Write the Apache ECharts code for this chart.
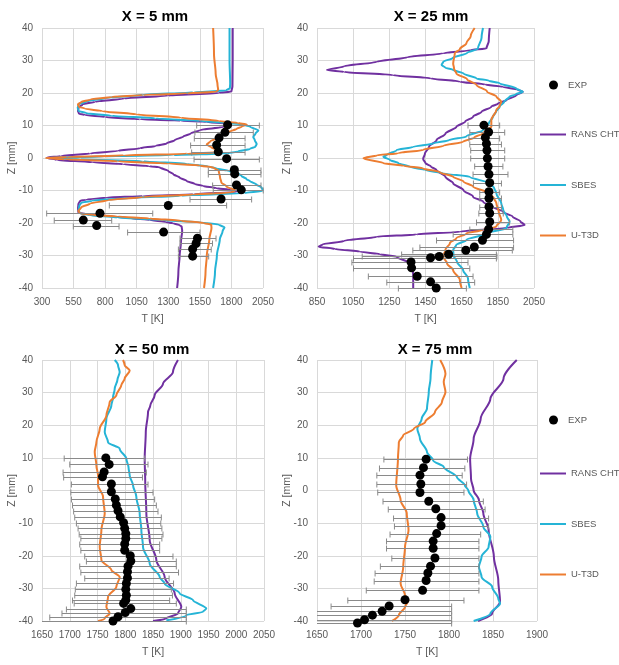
<!DOCTYPE html>
<html>
<head>
<meta charset="utf-8">
<script src="https://cdn.jsdelivr.net/npm/echarts@6/dist/echarts.min.js"></script>
<style>
  html, body { margin: 0; padding: 0; background: #ffffff; }
  #chart { width: 619px; height: 665px; }
</style>
</head>
<body>
<div id="chart"></div>
<script>
// Temperature profiles T(Z) at four downstream stations: measurements (EXP, with
// horizontal uncertainty bars) against three simulations.

const FONT = "'Liberation Sans', Arial, sans-serif";
const seriesNames = ['EXP', 'RANS CHT', 'SBES', 'U-T3D'];
const panelTitles = ['X = 5 mm', 'X = 25 mm', 'X = 50 mm', 'X = 75 mm'];
// x-axis [min, max, interval] per station, y-axis shared
const tAxes = [[300, 2050, 250], [850, 2050, 200], [1650, 2050, 50], [1650, 1900, 50]];
const zAxis = [-40, 40, 10];

// ---------- X = 5 mm ----------
const x5_expZ  = [10.2, 7.9, 6.2, 4.0, 1.9, -0.2, -3.6, -4.9, -8.3, -9.8, -12.6, -14.6, -17.0, -19.1, -20.8, -22.8, -24.7, -26.3, -28.0, -30.2];
const x5_expT  = [1770, 1749, 1702, 1683, 1696, 1762, 1823, 1826, 1840, 1878, 1718, 1300, 759, 627, 733, 1263, 1531, 1520, 1493, 1493];
const x5_expLo = [1525, 1511, 1506, 1477, 1485, 1504, 1617, 1617, 1651, 1656, 1472, 833, 337, 397, 548, 978, 1393, 1393, 1380, 1380];
const x5_expHi = [2021, 1973, 1908, 1908, 1908, 2021, 2034, 2034, 2034, 2052, 1960, 1762, 1177, 852, 910, 1551, 1678, 1650, 1640, 1620];
const x5_rans = [[1810,40],[1810,30],[1808,22],[1800,20.5],[1700,20],[1300,19.2],[950,18.3],[720,17.3],[620,16.5],[590,15.5],[585,14.5],[592,13.7],[640,13.2],[800,12.6],[1076,11.9],[1400,11.5],[1604,11.1],[1762,10.6],[1790,10.2],[1740,9.6],[1551,8.6],[1480,7.6],[1419,6.6],[1350,5.5],[1288,4.5],[1200,3.7],[1076,3.0],[900,2.2],[680,1.4],[450,0.6],[340,0.1],[420,-0.6],[700,-1.3],[944,-1.9],[1150,-2.5],[1234,-2.9],[1300,-4],[1340,-5],[1390,-6],[1446,-7.1],[1510,-8],[1577,-8.6],[1680,-9.3],[1790,-9.8],[1840,-10.4],[1500,-11.2],[1100,-11.7],[812,-12.2],[650,-12.8],[601,-13.2],[588,-14.2],[585,-15.5],[588,-16.8],[650,-17.3],[812,-17.8],[1000,-18.5],[1155,-19.1],[1280,-19.7],[1340,-20.1],[1390,-20.7],[1406,-21.1],[1410,-22.4],[1400,-26],[1390,-30],[1380,-35],[1370,-40]];
const x5_sbes = [[1785,40],[1785,30],[1790,23],[1788,21.5],[1760,20.8],[1500,20.2],[1100,19.5],[800,18.4],[650,17.4],[590,16.5],[583,15.5],[590,14.5],[650,13.8],[850,13],[1200,12.2],[1550,11.4],[1780,10.8],[1900,10.2],[1950,9.6],[2013,8.5],[1990,7.5],[1973,6.5],[1985,5.5],[2000,4.3],[1990,3.5],[1947,2.8],[1850,2.0],[1762,1.4],[1340,0.9],[800,0.5],[360,0.1],[600,-0.4],[1100,-1],[1450,-1.8],[1620,-2.6],[1683,-3.2],[1780,-4],[1842,-4.5],[1880,-5.5],[1920,-6.5],[1947,-7.1],[2000,-8.2],[2040,-9.1],[2048,-10.1],[1900,-10.8],[1400,-11.6],[1000,-12.3],[700,-13.1],[610,-13.8],[595,-14.8],[590,-16],[600,-17],[680,-17.6],[900,-18.3],[1250,-19.1],[1560,-19.8],[1700,-20.5],[1745,-21.3],[1730,-22.5],[1708,-25],[1685,-30],[1670,-35],[1655,-40]];
const x5_ut3d = [[1655,40],[1662,32],[1675,26],[1690,22.5],[1695,21],[1680,20.4],[1450,19.9],[1100,19.4],[850,18.8],[680,18],[610,17.2],[585,16.5],[592,15.8],[640,15.2],[780,14.4],[1050,13.4],[1400,12.4],[1700,11.4],[1850,10.8],[1921,10.3],[1880,9.6],[1842,9],[1780,8],[1700,6.5],[1630,5],[1604,4.2],[1640,3.3],[1690,2.4],[1700,1.8],[1450,1.3],[950,0.8],[500,0.3],[330,0],[480,-0.4],[900,-1],[1300,-1.7],[1550,-2.3],[1660,-3],[1700,-4],[1710,-6],[1720,-7.5],[1760,-8.7],[1828,-10],[1800,-10.6],[1500,-11.2],[1100,-12],[820,-13],[680,-14],[610,-15.2],[588,-16.3],[600,-17],[700,-17.5],[900,-18],[1150,-18.6],[1400,-19.3],[1580,-20],[1640,-20.5],[1642,-21.5],[1625,-25],[1605,-30],[1595,-35],[1583,-40]];

// ---------- X = 25 mm ----------
const x25_expZ  = [10.1, 8.0, 6.3, 4.4, 2.4, -0.1, -2.6, -5.0, -7.6, -10.4, -12.4, -15.0, -17.0, -19.6, -21.9, -23.5, -25.3, -27.4, -28.4, -29.6, -30.3, -30.7, -32.0, -33.8, -36.4, -38.1, -40.0];
const x25_expT  = [1773, 1799, 1781, 1787, 1790, 1792, 1796, 1801, 1805, 1801, 1801, 1801, 1805, 1805, 1799, 1787, 1765, 1720, 1673, 1578, 1526, 1478, 1370, 1373, 1404, 1478, 1509];
const x25_expLo = [1685, 1695, 1690, 1695, 1700, 1700, 1722, 1713, 1715, 1750, 1750, 1750, 1745, 1732, 1695, 1603, 1511, 1419, 1380, 1318, 1100, 1052, 1043, 1052, 1134, 1236, 1300];
const x25_expHi = [1860, 1888, 1860, 1870, 1888, 1888, 1878, 1906, 1870, 1860, 1870, 1870, 1880, 1915, 1933, 1933, 1937, 1937, 1930, 1842, 1845, 1842, 1685, 1695, 1713, 1722, 1676];
const x25_rans = [[1805,40],[1800,36],[1787,33.7],[1700,33.2],[1548,32.2],[1350,31],[1181,29.6],[1000,28.2],[905,27.1],[1000,26.5],[1272,25.5],[1480,24.5],[1640,23.5],[1780,22.6],[1878,21.9],[1960,21],[1988,20.4],[1950,19.2],[1897,17.8],[1850,16.7],[1814,15.8],[1760,14.2],[1713,12.7],[1670,11.2],[1621,9.6],[1560,7.5],[1511,5.5],[1470,3.5],[1447,1.4],[1437,-0.3],[1450,-1.6],[1480,-2.6],[1511,-3.7],[1560,-5.8],[1603,-7.8],[1660,-9.9],[1713,-11.9],[1770,-13.5],[1823,-15],[1880,-16.6],[1933,-18.1],[1975,-19.5],[1998,-20.6],[1900,-21.5],[1640,-22.7],[1400,-23.5],[1181,-24.2],[1000,-25.5],[880,-26.6],[859,-27.3],[950,-28],[1089,-28.8],[1200,-29.6],[1291,-30.4],[1364,-32.4],[1380,-34],[1382,-36.5],[1382,-40]];
const x25_sbes = [[1768,40],[1760,37],[1740,33.7],[1680,32.3],[1600,30.8],[1548,29.6],[1539,28.6],[1560,27.8],[1603,27.1],[1660,26],[1732,24.5],[1800,23.8],[1860,23],[1952,21.4],[1988,20.4],[1950,19.6],[1915,18.9],[1885,17.3],[1860,15.8],[1840,14.2],[1823,12.7],[1800,10.6],[1768,8.6],[1676,6.6],[1580,5.5],[1493,4.5],[1380,3.4],[1291,2.5],[1236,0.9],[1217,0.4],[1254,-0.6],[1300,-1.6],[1364,-2.7],[1450,-3.7],[1548,-4.7],[1695,-5.8],[1805,-7.8],[1830,-9.3],[1842,-10.9],[1869,-13.9],[1880,-16],[1900,-18],[1915,-19.6],[1897,-21.6],[1787,-23.2],[1676,-25.2],[1620,-26.8],[1603,-28.3],[1605,-30],[1625,-32],[1658,-34.5],[1685,-37],[1695,-40]];
const x25_ut3d = [[1722,40],[1700,37.5],[1676,35.3],[1640,33.5],[1612,32.2],[1603,29.1],[1608,27.5],[1621,26],[1680,24.2],[1732,22.5],[1790,20.5],[1842,18.9],[1869,17.3],[1860,16],[1842,14.8],[1814,11.7],[1814,9.6],[1790,8.6],[1768,7.6],[1720,6.3],[1658,5],[1550,3.8],[1437,2.5],[1300,1.5],[1180,0.8],[1107,-0.1],[1217,-1.6],[1330,-2.4],[1437,-3.2],[1530,-4.4],[1603,-5.8],[1660,-7.2],[1713,-8.8],[1805,-10.9],[1830,-12.5],[1842,-13.9],[1855,-16.5],[1869,-19.1],[1842,-21.1],[1760,-22.2],[1676,-23.2],[1620,-24.7],[1585,-26.2],[1560,-28.2],[1548,-30.4],[1570,-32.5],[1603,-34.5],[1640,-37.5],[1650,-40]];

// ---------- X = 50 mm ----------
const x50_expZ  = [10.0, 8.0, 5.7, 4.2, 2.0, -0.4, -2.6, -4.5, -6.2, -8.1, -9.9, -11.6, -13.2, -14.7, -16.4, -18.3, -20.0, -21.6, -23.2, -24.9, -26.8, -28.5, -30.3, -32.1, -33.6, -34.6, -36.2, -37.4, -38.7, -40.0];
const x50_expT  = [1765, 1771, 1762, 1759, 1775, 1775, 1782, 1784, 1787, 1791, 1797, 1799, 1801, 1801, 1799, 1799, 1809, 1810, 1805, 1804, 1804, 1802, 1801, 1802, 1801, 1797, 1810, 1800, 1787, 1778];
const x50_expLo = [1690, 1700, 1688, 1689, 1703, 1702, 1703, 1705, 1707, 1709, 1712, 1715, 1717, 1720, 1718, 1720, 1727, 1730, 1718, 1720, 1727, 1712, 1710, 1709, 1705, 1708, 1694, 1686, 1664, 1649];
const x50_expHi = [1835, 1841, 1838, 1831, 1841, 1850, 1853, 1856, 1859, 1865, 1864, 1866, 1868, 1866, 1862, 1862, 1886, 1892, 1892, 1896, 1879, 1887, 1883, 1885, 1880, 1892, 1910, 1910, 1910, 1910];
const x50_rans = [[1895,40],[1886,36.3],[1868,32.7],[1853,29.2],[1845,26],[1841,24],[1837,17.9],[1835,9.7],[1836,2.7],[1838,-7],[1844,-15.2],[1856,-21.3],[1871,-26.5],[1889,-31.5],[1901,-35.7],[1895,-37.7],[1874,-39.2],[1850,-40]];
const x50_sbes = [[1781,40],[1787,38.4],[1790,36.3],[1786,34],[1781,31.2],[1778,28.5],[1775,26.1],[1766,22],[1763,17.9],[1769,14.8],[1790,12.8],[1802,9.7],[1806,7],[1808,4.6],[1814,1.6],[1820,-1.9],[1826,-7],[1829,-12.1],[1832,-17.3],[1844,-22.4],[1862,-26.5],[1871,-28.5],[1898,-31.5],[1922,-33.6],[1946,-36.2],[1940,-37.2],[1910,-38.2],[1874,-39.8]];
const x50_ut3d = [[1796,40],[1799,38.4],[1808,36.8],[1799,34.3],[1793,32.3],[1784,29.2],[1772,27.1],[1766,23],[1754,18.9],[1748,14.8],[1745,11.8],[1748,7.7],[1751,4.6],[1751,1.6],[1760,-1.9],[1763,-7],[1757,-12.1],[1754,-17.3],[1757,-21.3],[1775,-24.4],[1790,-26.5],[1784,-29.5],[1769,-32.6],[1766,-35.7],[1772,-37.7],[1763,-39.2],[1751,-40]];

// ---------- X = 75 mm ----------
const x75_expZ  = [9.6, 7.0, 4.7, 2.0, -0.6, -3.3, -5.6, -8.3, -10.8, -13.2, -15.5, -17.7, -20.7, -23.2, -25.3, -27.6, -30.6, -33.5, -35.4, -37.0, -38.2, -39.6, -40.6];
const x75_expT  = [1774, 1771, 1767, 1768, 1767, 1777, 1785, 1791, 1791, 1786, 1782, 1782, 1784, 1779, 1776, 1774, 1770, 1750, 1732, 1724, 1713, 1704, 1696];
const x75_expLo = [1726, 1721, 1718, 1718, 1719, 1725, 1731, 1737, 1738, 1733, 1729, 1729, 1735, 1722, 1716, 1715, 1706, 1685, 1666, 1640, 1630, 1625, 1620];
const x75_expHi = [1821, 1818, 1815, 1820, 1817, 1839, 1841, 1845, 1845, 1836, 1834, 1834, 1834, 1834, 1834, 1834, 1834, 1817, 1803, 1803, 1803, 1803, 1803];
const x75_rans = [[1877,40],[1862,34.3],[1847,28.1],[1836,22],[1828,15.9],[1824,9.7],[1825,3.6],[1828,0],[1834,-2.9],[1839,-7],[1845,-12.1],[1851,-20.3],[1856,-27.5],[1858,-34.1],[1849,-37.7],[1833,-40]];
const x75_sbes = [[1781,40],[1779,34.3],[1777,30.2],[1775,25.1],[1769,22],[1764,18.9],[1767,15.9],[1775,11.8],[1782,9.2],[1794,7.2],[1809,4.1],[1818,1.6],[1822,0],[1828,-2.9],[1832,-7],[1839,-11.1],[1847,-14.2],[1845,-17.3],[1837,-20.3],[1834,-23.4],[1837,-26.5],[1849,-29.5],[1856,-33.1],[1858,-34.6],[1847,-37.7],[1828,-40]];
const x75_ut3d = [[1790,40],[1796,35.8],[1794,33.3],[1796,30.2],[1792,27.1],[1784,24],[1773,21],[1760,18.9],[1748,16.9],[1743,14.8],[1742,9.7],[1740,1.6],[1745,-2.9],[1752,-7],[1754,-12.1],[1750,-17.3],[1748,-23.4],[1745,-28.5],[1750,-32.1],[1754,-33.6],[1750,-35.7],[1743,-38.2],[1735,-40]];

// ---------- assembly ----------
const stations = [
  { expZ: x5_expZ,  expT: x5_expT,  lo: x5_expLo,  hi: x5_expHi,  rans: x5_rans,  sbes: x5_sbes,  ut3d: x5_ut3d },
  { expZ: x25_expZ, expT: x25_expT, lo: x25_expLo, hi: x25_expHi, rans: x25_rans, sbes: x25_sbes, ut3d: x25_ut3d },
  { expZ: x50_expZ, expT: x50_expT, lo: x50_expLo, hi: x50_expHi, rans: x50_rans, sbes: x50_sbes, ut3d: x50_ut3d },
  { expZ: x75_expZ, expT: x75_expT, lo: x75_expLo, hi: x75_expHi, rans: x75_rans, sbes: x75_sbes, ut3d: x75_ut3d }
];

const COLORS = { exp: '#000000', rans: '#7030a0', sbes: '#25b4d6', ut3d: '#ed7d31', bar: '#8a8a8a' };
const LABEL_COLOR = '#595959';
const GRID_COLOR = '#d9d9d9';

const gridBoxes = [
  { left: 42,  top: 28,  width: 221, height: 260 },
  { left: 317, top: 28,  width: 217, height: 260 },
  { left: 42,  top: 360, width: 222, height: 261 },
  { left: 317, top: 360, width: 220, height: 261 }
];
const titlePos = [[150, 4], [426, 4], [147, 337], [430, 337]];

function errorBarItem(params, api) {
  const z = api.value(2);
  const a = api.coord([api.value(0), z]);
  const b = api.coord([api.value(1), z]);
  const cs = params.coordSys;
  const left = cs.x, right = cs.x + cs.width;
  const y = Math.round(a[1]) + 0.5;
  const x0 = Math.max(a[0], left), x1 = Math.min(b[0], right);
  const style = { stroke: COLORS.bar, lineWidth: 1 };
  const children = [{ type: 'line', shape: { x1: x0, y1: y, x2: x1, y2: y }, style }];
  const cap = 3;
  if (a[0] >= left - 0.5) children.push({ type: 'line', shape: { x1: a[0], y1: y - cap, x2: a[0], y2: y + cap }, style });
  if (b[0] <= right + 0.5) children.push({ type: 'line', shape: { x1: b[0], y1: y - cap, x2: b[0], y2: y + cap }, style });
  return { type: 'group', children };
}

const axisLabelStyle = { color: LABEL_COLOR, fontFamily: FONT, fontSize: 10, formatter: v => String(v) };
const axisNameStyle = { color: LABEL_COLOR, fontFamily: FONT, fontSize: 10.5 };

const grid = gridBoxes.map(g => Object.assign({ containLabel: false }, g));
const xAxis = tAxes.map((t, i) => ({
  type: 'value', gridIndex: i, min: t[0], max: t[1], interval: t[2],
  name: 'T [K]', nameLocation: 'middle', nameGap: 26, nameMoveOverlap: false, nameTextStyle: axisNameStyle,
  axisLine: { show: false }, axisTick: { show: false },
  axisLabel: Object.assign({ margin: 9 }, axisLabelStyle),
  splitLine: { show: true, lineStyle: { color: GRID_COLOR, width: 1 } }
}));
const yAxis = tAxes.map((t, i) => ({
  type: 'value', gridIndex: i, min: zAxis[0], max: zAxis[1], interval: zAxis[2],
  name: 'Z [mm]', nameLocation: 'middle', nameGap: 24, nameRotate: 90, nameMoveOverlap: false, nameTextStyle: axisNameStyle,
  axisLine: { show: false }, axisTick: { show: false },
  axisLabel: Object.assign({ margin: 9 }, axisLabelStyle),
  splitLine: { show: true, lineStyle: { color: GRID_COLOR, width: 1 } }
}));

const series = [];
stations.forEach((s, i) => {
  const lineBase = { type: 'line', xAxisIndex: i, yAxisIndex: i, symbol: 'none', smooth: 0.3, smoothMonotone: 'y', clip: true, z: 3 };
  series.push(Object.assign({}, lineBase, { name: 'RANS CHT', data: s.rans, lineStyle: { color: COLORS.rans, width: 2 }, itemStyle: { color: COLORS.rans } }));
  series.push(Object.assign({}, lineBase, { name: 'SBES', data: s.sbes, lineStyle: { color: COLORS.sbes, width: 2 }, itemStyle: { color: COLORS.sbes } }));
  series.push(Object.assign({}, lineBase, { name: 'U-T3D', data: s.ut3d, lineStyle: { color: COLORS.ut3d, width: 2 }, itemStyle: { color: COLORS.ut3d } }));
  series.push({
    type: 'scatter', name: 'EXP', xAxisIndex: i, yAxisIndex: i, z: 5, clip: false,
    symbol: 'circle', symbolSize: 9, itemStyle: { color: COLORS.exp, opacity: 1 },
    data: s.expZ.map((z, k) => [s.expT[k], z])
  });
  series.push({
    type: 'custom', name: 'EXP', xAxisIndex: i, yAxisIndex: i, z: 4, silent: true,
    itemStyle: { color: COLORS.exp },
    renderItem: errorBarItem, encode: { x: [0, 1], y: 2 },
    data: s.expZ.map((z, k) => [s.lo[k], s.hi[k], z])
  });
});

const title = panelTitles.map((t, i) => ({
  text: t, left: titlePos[i][0], top: titlePos[i][1], textAlign: 'center',
  textStyle: { fontFamily: FONT, fontSize: 15, fontWeight: 'bold', color: '#000000' }
}));

// legend glyph for the model curves: a plain 26x2 stroke
const LINE_ICON = 'path://M0,0 L26,0 L26,2 L0,2 Z';
const legendText = { color: LABEL_COLOR, fontFamily: FONT, fontSize: 9.5 };
const legend = [];
[[80, 129.5], [415, 468.5]].forEach(([expTop, lineTop]) => {
  legend.push({ data: [{ name: 'EXP', icon: 'circle' }], orient: 'vertical', left: 549, top: expTop, padding: 0,
    itemWidth: 9, itemHeight: 9, itemGap: 0,
    textStyle: Object.assign({ padding: [0, 0, 0, 5] }, legendText), selectedMode: false });
  legend.push({ data: ['RANS CHT', 'SBES', 'U-T3D'].map(n => ({ name: n, icon: LINE_ICON })),
    orient: 'vertical', left: 540, top: lineTop, padding: 0,
    itemWidth: 26, itemHeight: 14, itemGap: 40.5, textStyle: legendText, selectedMode: false });
});

const chart = echarts.init(document.getElementById('chart'), null, { renderer: 'canvas' });
chart.setOption({
  backgroundColor: '#ffffff',
  animation: false,
  title, legend, grid, xAxis, yAxis, series
});
</script>
</body>
</html>
